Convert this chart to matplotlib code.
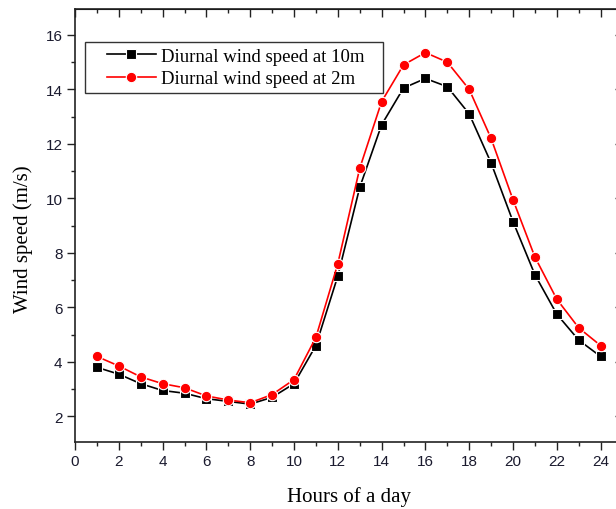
import matplotlib
matplotlib.use('Agg')
import matplotlib.pyplot as plt
from matplotlib.ticker import MultipleLocator
from matplotlib.legend_handler import HandlerLine2D

# (1) data
hours = list(range(1, 25))
speed_10m = [3.80, 3.55, 3.20, 2.95, 2.85, 2.65, 2.55, 2.45, 2.70, 3.20, 4.60, 7.15,
             10.40, 12.70, 14.05, 14.40, 14.10, 13.10, 11.30, 9.15, 7.20, 5.75, 4.80, 4.20]
speed_2m = [4.20, 3.85, 3.45, 3.20, 3.05, 2.75, 2.60, 2.50, 2.80, 3.35, 4.90, 7.60,
            11.10, 13.55, 14.90, 15.35, 15.00, 14.00, 12.20, 9.95, 7.85, 6.30, 5.25, 4.60]
labels = ['Diurnal wind speed at 10m', 'Diurnal wind speed at 2m']

serif = 'Liberation Serif'
sans = 'Liberation Sans'

# (2) figure and axes (right spine falls just outside the picture, as in the source)
fig = plt.figure(figsize=(6.16, 5.10), dpi=100)
ax = fig.add_axes([75 / 616, 67 / 510, 547.5 / 616, 433 / 510])

l1, = ax.plot(hours, speed_10m, color='black', lw=1.2, marker='s', ms=6.5,
              mfc='black', mec='white', mew=0.8, label=labels[0])
l2, = ax.plot(hours, speed_2m, color='#ff0000', lw=1.2, marker='o', ms=7.5,
              mfc='#ff0000', mec='white', mew=0.8, label=labels[1])

ax.set_xlim(0, 25)
ax.set_ylim(1.06, 16.95)
ax.xaxis.set_major_locator(MultipleLocator(2))
ax.xaxis.set_minor_locator(MultipleLocator(1))
ax.yaxis.set_major_locator(MultipleLocator(2))
ax.yaxis.set_minor_locator(MultipleLocator(1))
ax.set_yticks(range(2, 17, 2))

# outward ticks on bottom/left, inward on top/right
ax.tick_params(which='both', bottom=True, left=True, top=False, right=False,
               direction='out', width=1.0, color='#222222')
ax.tick_params(which='major', length=6, labelsize=11, pad=3)
ax.tick_params(which='minor', length=3)
ax2 = ax.secondary_xaxis('top')
ax2.xaxis.set_major_locator(MultipleLocator(2))
ax2.xaxis.set_minor_locator(MultipleLocator(1))
ax2.tick_params(which='both', direction='in', labeltop=False, width=1.0, color='#222222')
ax2.tick_params(which='major', length=6)
ax2.tick_params(which='minor', length=3)
ax3 = ax.secondary_yaxis('right')
ax3.yaxis.set_major_locator(MultipleLocator(2))
ax3.yaxis.set_minor_locator(MultipleLocator(1))
ax3.tick_params(which='both', direction='in', labelright=False, width=1.0, color='#222222')
ax3.tick_params(which='major', length=6)
ax3.tick_params(which='minor', length=3)

for lab in ax.get_xticklabels() + ax.get_yticklabels():
    lab.set_fontfamily(sans)
    lab.set_color('#1a1a2e')

for sp in ax.spines.values():
    sp.set_linewidth(1.2)
    sp.set_color('#222222')

ax.set_xlabel('Hours of a day', fontfamily=serif, fontsize=15, labelpad=13)
ax.set_ylabel('Wind speed (m/s)', fontfamily=serif, fontsize=15)
ax.yaxis.set_label_coords(-0.077, 0.47)

# legend box stretched to the width seen in the source
leg = ax.legend(handles=[l1, l2], loc='upper left', mode='expand',
                bbox_to_anchor=(10 / 547.5, 1 - 33 / 433, 298 / 547.5, 0),
                prop={'family': serif, 'size': 13.5}, frameon=True, fancybox=False,
                edgecolor='black', handlelength=3.5, handletextpad=0.25,
                borderpad=0.3, labelspacing=0.3, borderaxespad=0,
                handler_map={l1: HandlerLine2D(xpad=0.85), l2: HandlerLine2D(xpad=0.85)})
leg.get_frame().set_linewidth(1.0)

fig.savefig('out.png', dpi=100)
